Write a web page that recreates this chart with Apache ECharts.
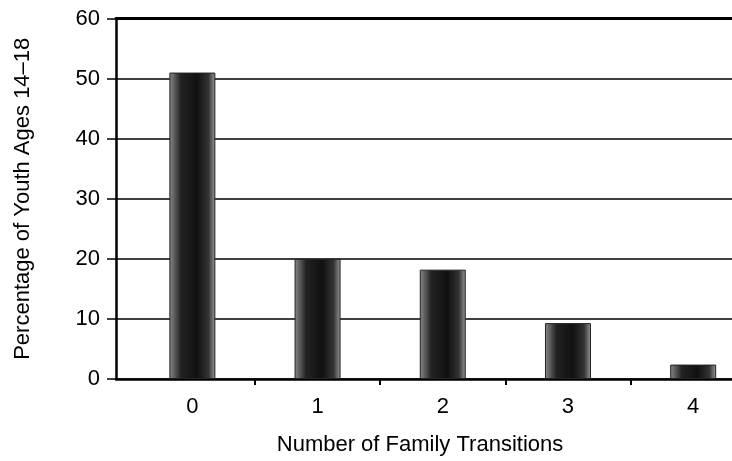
<!DOCTYPE html>
<html><head><meta charset="utf-8">
<script src="https://cdn.jsdelivr.net/npm/echarts@6/dist/echarts.min.js"></script>
<style>html,body{margin:0;padding:0;background:#fff}#c{width:732px;height:461px}</style>
</head><body><div id="c"></div>
<script>
const categories = [0, 1, 2, 3, 4];
const values = [51, 20, 18.2, 9.3, 2.4];
const yTicks = [0, 10, 20, 30, 40, 50, 60];
const xTitle = 'Number of Family Transitions';
const yTitle = 'Percentage of Youth Ages 14\u201318';

const chart = echarts.init(document.getElementById('c'), null, {renderer: 'canvas'});
const font = '"Liberation Sans", Arial, Helvetica, sans-serif';
const xMin = -0.61, xMax = 4.31;
chart.setOption({
  animation: false,
  backgroundColor: '#fff',
  grid: {left: 116, right: 0, top: 18.5, bottom: 77, containLabel: false},
  xAxis: [{
    type: 'value', min: xMin, max: xMax,
    name: xTitle, nameLocation: 'middle', nameGap: 55,
    nameTextStyle: {color: '#000', fontSize: 22, fontFamily: font, padding: [0, 8, 0, 0]},
    axisLine: {show: true, onZero: false, lineStyle: {color: '#000', width: 2.5}},
    axisTick: {show: true, length: 6, inside: false, customValues: [0.5, 1.5, 2.5, 3.5], lineStyle: {color: '#000', width: 2}},
    axisLabel: {customValues: categories, color: '#000', fontSize: 22, fontFamily: font, margin: 17},
    splitLine: {show: false}
  }, {
    type: 'value', min: xMin, max: xMax, position: 'top',
    axisLine: {show: true, onZero: false, lineStyle: {color: '#000', width: 3}},
    axisTick: {show: false}, axisLabel: {show: false}, splitLine: {show: false}
  }],
  yAxis: {
    type: 'value', min: 0, max: 60, interval: 10,
    name: yTitle, nameLocation: 'middle', nameGap: 82, nameRotate: 90,
    nameTextStyle: {color: '#000', fontSize: 22, fontFamily: font},
    axisLine: {show: true, onZero: false, lineStyle: {color: '#000', width: 2.5}},
    axisTick: {show: true, length: 9, inside: false, lineStyle: {color: '#000', width: 1.5}},
    axisLabel: {color: '#000', fontSize: 22, fontFamily: font, margin: 16},
    splitLine: {show: true, lineStyle: {color: '#000', width: 1.5}}
  },
  series: [{
    type: 'bar',
    xAxisIndex: 0,
    data: categories.map((c, i) => [c, values[i]]),
    barWidth: 46,
    itemStyle: {
      color: new echarts.graphic.LinearGradient(0, 0, 1, 0, [
        {offset: 0, color: '#8a8a8a'},
        {offset: 0.25, color: '#222'},
        {offset: 0.6, color: '#111'},
        {offset: 0.85, color: '#333'},
        {offset: 1, color: '#9a9a9a'}
      ]),
      borderColor: '#222', borderWidth: 1
    }
  }]
});
</script></body></html>
